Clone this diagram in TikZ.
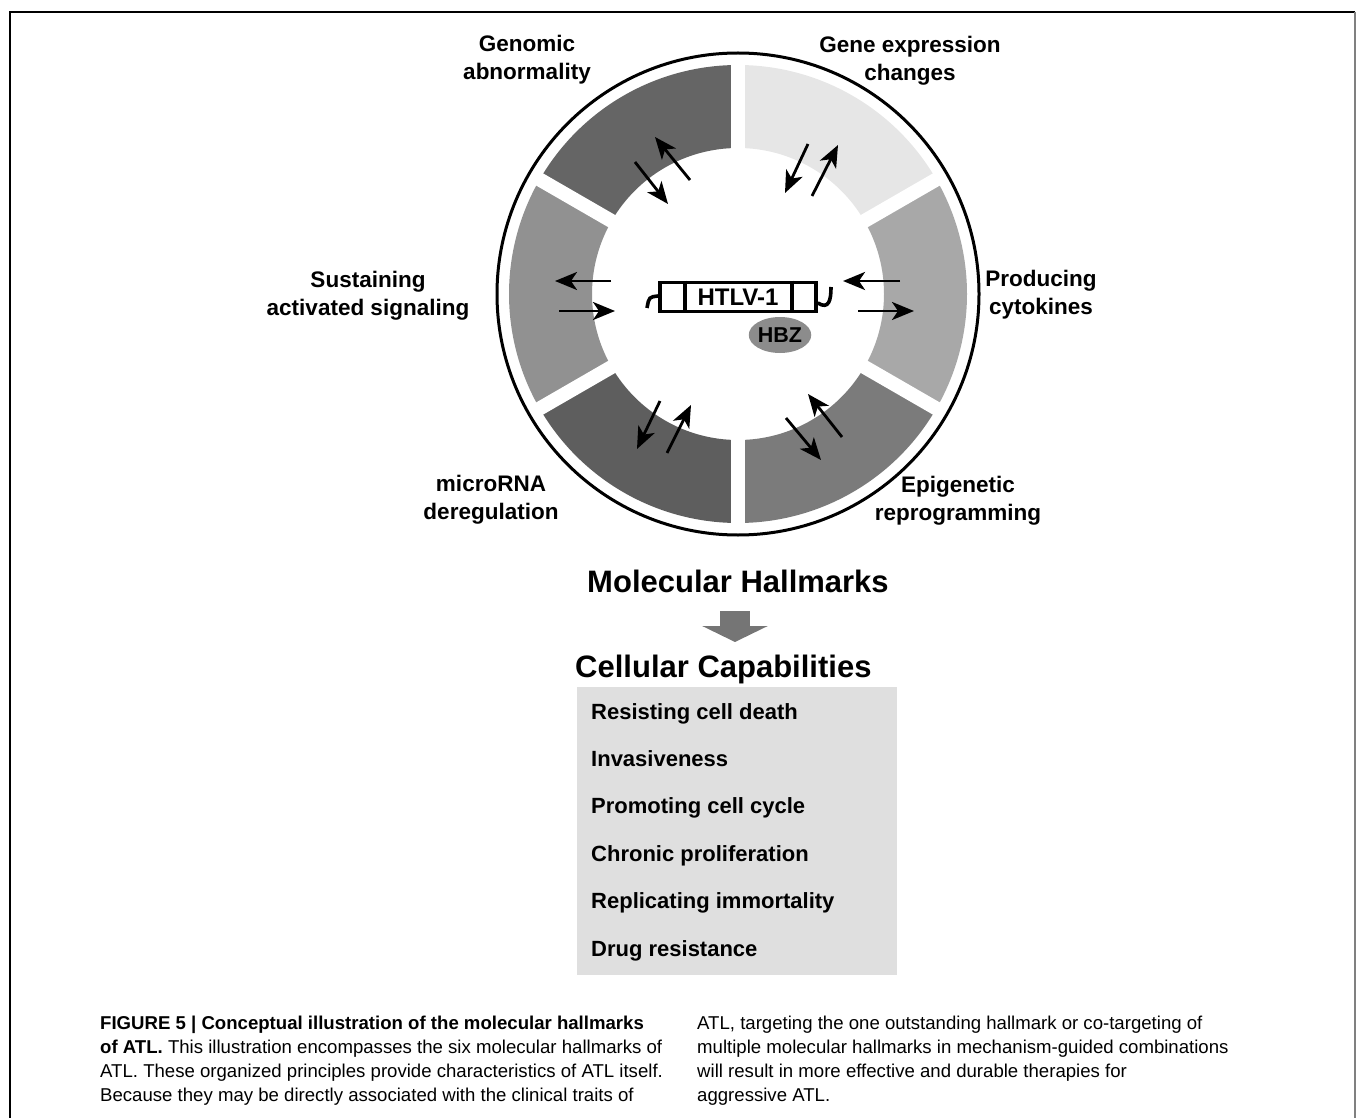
\documentclass[tikz,border=0pt]{standalone}
\usepackage{fontspec}
\setmainfont{Liberation Sans}
\usetikzlibrary{arrows.meta,shapes.geometric}

\definecolor{segGen}{HTML}{656565}
\definecolor{segExp}{HTML}{E6E6E6}
\definecolor{segCyt}{HTML}{A8A8A8}
\definecolor{segEpi}{HTML}{7B7B7B}
\definecolor{segMir}{HTML}{5E5E5E}
\definecolor{segSig}{HTML}{919191}
\definecolor{capbg}{HTML}{DFDFDF}
\definecolor{hbzgray}{HTML}{8C8C8C}

\tikzset{
    hallmark/.style={font=\bfseries\fontsize{22.5}{28}\selectfont, align=center, inner sep=0pt},
    signal/.style={line width=2.8pt, -{Stealth[length=22pt,width=18pt,inset=6pt]}},
    heading/.style={font=\bfseries\fontsize{31}{36}\selectfont, inner sep=0pt, anchor=base},
    capab/.style={font=\bfseries\fontsize{22}{26}\selectfont, inner sep=0pt, anchor=base west},
    caption/.style={font=\fontsize{18.6}{24}\selectfont, align=left, inner sep=0pt, anchor=north west},
    bigarrow/.style={line width=30pt, color=gray!92!black, -{Triangle[length=16pt,width=65pt]}}
}

\begin{document}
\begin{tikzpicture}[x=1pt,y=-1pt]
    \useasboundingbox (0,0) rectangle (1358,1118);
    \draw[line width=1.5pt] (10,1118) -- (10,12) -- (1355,12);
    \draw[line width=2.5pt, gray] (1355,12) -- (1355,1118);

    \coordinate (C) at (738,294);
    \foreach \a/\col in {90/segGen,30/segExp,-30/segCyt,270/segEpi,210/segMir,150/segSig}
        \fill[\col] ([shift={(\a:229pt)}]C) arc[start angle=\a, end angle=\a+60, radius=229pt]
            -- ([shift={(\a+60:146pt)}]C) arc[start angle=\a+60, end angle=\a, radius=146pt] -- cycle;
    \foreach \a in {30,90,...,330}
        \draw[white, line width=14pt] (C) -- ++(\a:236pt);
    \draw[line width=3pt] (C) circle[radius=241pt];

    \foreach \n/\xa/\ya/\xb/\yb in {genout/690/180/655/137, genin/635/162/668/204,
            expin/808/144/785/193, expout/812/196/838/145,
            sigout/611/281/555/281, sigin/559/311/615/311,
            cytin/900/281/843/281, cytout/858/311/914/311,
            mirin/660/401/637/449, mirout/667/453/691/405,
            epiout/842/437/808/394, epiin/786/418/821/460} {
        \coordinate (\n-s) at (\xa,\ya);
        \coordinate (\n-e) at (\xb,\yb);
        \draw[signal] (\n-s) -- (\n-e);
    }

    \node[ellipse, fill=hbzgray, minimum width=57pt, minimum height=36pt, inner sep=0pt,
        font=\bfseries\fontsize{21.5}{21.5}\selectfont] (hbz) at (780,335) {HBZ};
    \node[draw, line width=3.6pt, minimum width=156pt, minimum height=29pt, inner sep=0pt,
        font=\bfseries\fontsize{24}{24}\selectfont] (htlv) at (738,297) {HTLV-1};
    \draw[line width=3.6pt] ([xshift=27pt]htlv.north west) -- ([xshift=27pt]htlv.south west);
    \draw[line width=3.6pt] ([xshift=-26pt]htlv.north east) -- ([xshift=-26pt]htlv.south east);
    \coordinate (ltail) at (647,308);
    \coordinate (rtail) at (831,287);
    \draw[line width=3.6pt] ([yshift=1pt]htlv.west) .. controls (649,297) .. (ltail);
    \draw[line width=3.6pt] ([yshift=-6pt]htlv.east) .. controls (829,310) and (831,300) .. (rtail);

    \node[hallmark] (genomic) at (527,60) {Genomic\\abnormality};
    \node[hallmark] (geneexp) at (910,61) {Gene expression\\changes};
    \node[hallmark] (sustain) at (368,296) {Sustaining\\activated signaling};
    \node[hallmark] (cytokin) at (1041,295) {Producing\\cytokines};
    \node[hallmark] (mirna) at (491,500) {microRNA\\deregulation};
    \node[hallmark] (epigen) at (958,501) {Epigenetic\\reprogramming};

    \node[heading] (molec) at (738,592) {Molecular Hallmarks};
    \coordinate (arrtop) at (735,611);
    \coordinate (arrtip) at (735,642);
    \draw[bigarrow] (arrtop) -- (arrtip);
    \node[heading, anchor=base west] (cellcap) at (575,677) {Cellular Capabilities};

    \node[fill=capbg, minimum width=320pt, minimum height=288pt, anchor=north west] (capbox) at (577,687) {};
    \foreach \t [count=\i] in {Resisting cell death, Invasiveness, Promoting cell cycle,
            Chronic proliferation, Replicating immortality, Drug resistance}
        \node[capab] (cap\i) at (591,{719+47.4*(\i-1)}) {\t};

    \node[caption] (capleft) at (100,1016) {\textbf{FIGURE 5 | Conceptual illustration of the molecular hallmarks}\\
        \textbf{of ATL.} This illustration encompasses the six molecular hallmarks of\\
        ATL. These organized principles provide characteristics of ATL itself.\\
        Because they may be directly associated with the clinical traits of};
    \node[caption] (capright) at (697,1016) {ATL, targeting the one outstanding hallmark or co-targeting of\\
        multiple molecular hallmarks in mechanism-guided combinations\\
        will result in more effective and durable therapies for\\
        aggressive ATL.};
\end{tikzpicture}
\end{document}
